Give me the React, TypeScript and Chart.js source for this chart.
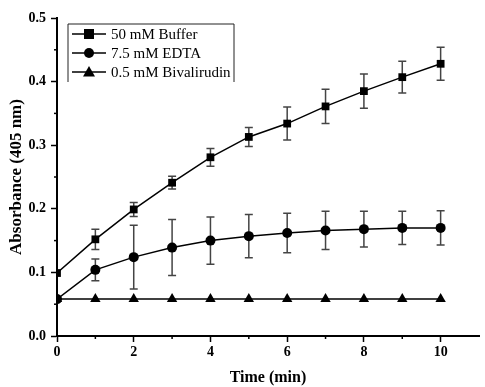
import React, { useEffect, useRef } from "react";
import { Chart, registerables } from "chart.js";

Chart.register(...registerables);

const times = [0, 1, 2, 3, 4, 5, 6, 7, 8, 9, 10];
const bufferVals = [0.099, 0.152, 0.199, 0.241, 0.281, 0.313, 0.334, 0.361, 0.385, 0.407, 0.428];
const bufferErr = [0, 0.016, 0.011, 0.01, 0.014, 0.015, 0.026, 0.027, 0.027, 0.025, 0.026];
const edtaVals = [0.058, 0.104, 0.124, 0.139, 0.150, 0.157, 0.162, 0.166, 0.168, 0.170, 0.170];
const edtaErr = [0, 0.017, 0.05, 0.044, 0.037, 0.034, 0.031, 0.03, 0.028, 0.026, 0.027];
const bivaVals = [0.058, 0.058, 0.058, 0.058, 0.058, 0.058, 0.058, 0.058, 0.058, 0.058, 0.058];
const bivaErr = [0, 0, 0, 0, 0, 0, 0, 0, 0, 0, 0];
const seriesNames = ["50 mM Buffer", "7.5 mM EDTA", "0.5 mM Bivalirudin"];
const xTitle = "Time (min)";
const yTitle = "Absorbance (405 nm)";

const FONT = "'Liberation Serif', 'Times New Roman', serif";

const isMajorY = (v: number) => Math.abs(v * 10 - Math.round(v * 10)) < 1e-6;
const isMajorX = (v: number) => Math.abs(v / 2 - Math.round(v / 2)) < 1e-6;

function drawMarker(ctx: CanvasRenderingContext2D, style: string, x: number, y: number) {
  ctx.fillStyle = "#000";
  ctx.beginPath();
  if (style === "rect") {
    ctx.rect(x - 5, y - 5, 10, 10);
  } else if (style === "circle") {
    ctx.arc(x, y, 5, 0, Math.PI * 2);
  } else {
    ctx.moveTo(x, y - 6);
    ctx.lineTo(x + 6, y + 4.5);
    ctx.lineTo(x - 6, y + 4.5);
    ctx.closePath();
  }
  ctx.fill();
}

const errorBarPlugin = {
  id: "errorBars",
  beforeDatasetsDraw(chart: any) {
    const ctx = chart.ctx;
    const xs = chart.scales.x;
    const ys = chart.scales.y;
    ctx.save();
    chart.data.datasets.forEach((ds: any) => {
      const errs: number[] = ds.errors || [];
      ds.data.forEach((v: number, i: number) => {
        const e = errs[i];
        if (!e) return;
        const x = xs.getPixelForValue(times[i]);
        const yTop = ys.getPixelForValue(v + e);
        const yBot = ys.getPixelForValue(v - e);
        ctx.strokeStyle = "#444";
        ctx.lineWidth = 1.5;
        ctx.beginPath();
        ctx.moveTo(x, yTop);
        ctx.lineTo(x, yBot);
        ctx.moveTo(x - 4, yTop);
        ctx.lineTo(x + 4, yTop);
        ctx.moveTo(x - 4, yBot);
        ctx.lineTo(x + 4, yBot);
        ctx.stroke();
      });
    });
    ctx.restore();
  },
  afterDraw(chart: any) {
    const ctx = chart.ctx;
    const xs = chart.scales.x;
    const ys = chart.scales.y;
    const area = chart.chartArea;
    ctx.save();
    ctx.strokeStyle = "#000";
    ctx.lineWidth = 1.5;
    // minor ticks
    xs.ticks.forEach((t: any) => {
      if (isMajorX(t.value)) return;
      const x = xs.getPixelForValue(t.value);
      ctx.beginPath();
      ctx.moveTo(x, area.bottom);
      ctx.lineTo(x, area.bottom + 3);
      ctx.stroke();
    });
    ys.ticks.forEach((t: any) => {
      if (isMajorY(t.value)) return;
      const y = ys.getPixelForValue(t.value);
      ctx.beginPath();
      ctx.moveTo(area.left, y);
      ctx.lineTo(area.left - 3, y);
      ctx.stroke();
    });
    // legend
    const lx = 68, ly = 24, lw = 166, lh = 58;
    ctx.lineWidth = 1;
    ctx.strokeStyle = "#222";
    ctx.beginPath();
    ctx.moveTo(lx, ly + lh);
    ctx.lineTo(lx, ly);
    ctx.lineTo(lx + lw, ly);
    ctx.lineTo(lx + lw, ly + lh);
    ctx.stroke();
    ctx.font = `15px ${FONT}`;
    ctx.textBaseline = "middle";
    ctx.textAlign = "left";
    chart.data.datasets.forEach((ds: any, i: number) => {
      const y = 34 + i * 19;
      ctx.strokeStyle = "#000";
      ctx.lineWidth = 1.5;
      ctx.beginPath();
      ctx.moveTo(72, y);
      ctx.lineTo(106, y);
      ctx.stroke();
      drawMarker(ctx, ds.pointStyle, 89, y);
      ctx.fillStyle = "#000";
      ctx.fillText(ds.label, 111, y + 1);
    });
    ctx.restore();
  },
};

export default function App() {
  const ref = useRef<HTMLCanvasElement | null>(null);
  useEffect(() => {
    document.body.style.margin = "0";
    const mk = (label: string, vals: number[], errs: number[], style: string, r: number) => ({
      label,
      data: vals,
      errors: errs,
      borderColor: "#000",
      backgroundColor: "#000",
      borderWidth: 1.5,
      pointStyle: style,
      pointRadius: r,
      pointBorderWidth: 0,
      pointBackgroundColor: "#000",
      tension: 0,
    });
    const chart = new Chart(ref.current as HTMLCanvasElement, {
      type: "line",
      data: {
        labels: times,
        datasets: [
          mk(seriesNames[0], bufferVals, bufferErr, "rect", 5.5),
          mk(seriesNames[1], edtaVals, edtaErr, "circle", 5),
          mk(seriesNames[2], bivaVals, bivaErr, "triangle", 6),
        ] as any,
      },
      options: {
        animation: false,
        responsive: false,
        devicePixelRatio: 1,
        layout: { padding: { top: 18, right: 2, left: 0, bottom: 0 } },
        plugins: { legend: { display: false }, tooltip: { enabled: false } },
        scales: {
          x: {
            type: "linear",
            min: 0,
            max: 11,
            afterBuildTicks: (s: any) => {
              s.ticks = times.map((v) => ({ value: v }));
            },
            afterFit: (s: any) => {
              s.height = 51;
            },
            ticks: {
              stepSize: 1,
              autoSkip: false,
              maxRotation: 0,
              padding: 2,
              color: "#000",
              font: { family: FONT, size: 14, weight: "bold" },
              callback: (v: any) => (isMajorX(Number(v)) ? String(v) : ""),
            },
            grid: {
              display: true,
              drawOnChartArea: false,
              tickLength: 6,
              tickWidth: 1.5,
              tickColor: (c: any) => (c.tick && isMajorX(c.tick.value) ? "#000" : "rgba(0,0,0,0)"),
            },
            border: { display: true, color: "#000", width: 2 },
            title: {
              display: true,
              text: xTitle,
              color: "#000",
              font: { family: FONT, size: 16, weight: "bold" },
              padding: { top: 0, bottom: 0 },
            },
          },
          y: {
            type: "linear",
            min: 0,
            max: 0.5,
            afterBuildTicks: (s: any) => {
              const arr = [];
              for (let i = 0; i <= 10; i++) arr.push({ value: i * 0.05 });
              s.ticks = arr;
            },
            afterFit: (s: any) => {
              s.width = 57;
            },
            ticks: {
              autoSkip: false,
              padding: 5,
              color: "#000",
              font: { family: FONT, size: 14, weight: "bold" },
              callback: (v: any) => (isMajorY(Number(v)) ? Number(v).toFixed(1) : ""),
            },
            grid: {
              display: true,
              drawOnChartArea: false,
              tickLength: 6,
              tickWidth: 1.5,
              tickColor: (c: any) => (c.tick && isMajorY(c.tick.value) ? "#000" : "rgba(0,0,0,0)"),
            },
            border: { display: true, color: "#000", width: 2 },
            title: {
              display: true,
              text: yTitle,
              color: "#000",
              font: { family: FONT, size: 17, weight: "bold" },
              padding: { top: 6, bottom: 0 },
            },
          },
        },
      } as any,
      plugins: [errorBarPlugin],
    });
    return () => chart.destroy();
  }, []);
  return (
    <div style={{ position: "fixed", left: 0, top: 0, width: 485, height: 387, background: "#fff" }}>
      <canvas ref={ref} width={485} height={387} style={{ width: 485, height: 387, display: "block" }} />
    </div>
  );
}
